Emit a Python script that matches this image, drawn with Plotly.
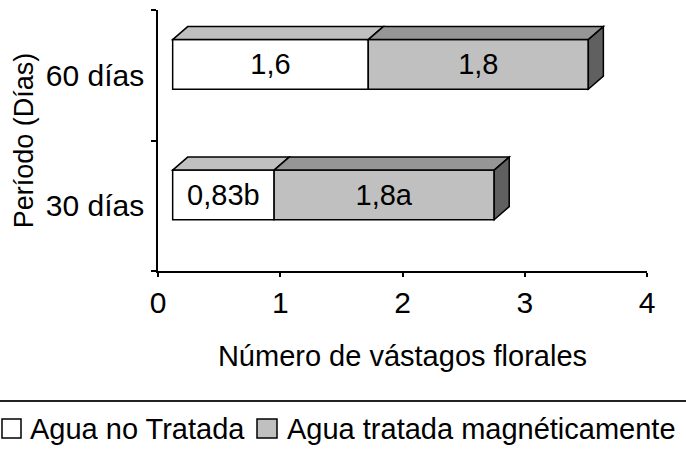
import plotly.graph_objects as go

# Flowering stems per period, untreated vs magnetically treated water
periods = ["30 días", "60 días"]
untreated = [0.83, 1.6]
treated = [1.8, 1.8]
untreated_sig = ["b", ""]
treated_sig = ["a", ""]
x_ticks = [0, 1, 2, 3, 4]

FONT = "Liberation Sans, Arial, sans-serif"
FS = 29

# pseudo-3D bar geometry (data units)
SHIFT = 0.12      # front face offset from the value axis
BAR_W = 0.38
BAR_OFF = -0.107
DX, DY = 0.123, 0.10

ypos = list(range(len(periods)))


def fmt(v, tag):
    return f"{v:g}".replace(".", ",") + tag


fig = go.Figure()
fig.add_trace(go.Bar(
    y=ypos, x=untreated, base=[SHIFT] * len(ypos), orientation="h",
    width=BAR_W, offset=BAR_OFF, name="Agua no Tratada",
    marker=dict(color="white", line=dict(color="black", width=1.5)),
    text=[fmt(v, t) for v, t in zip(untreated, untreated_sig)],
    textposition="inside", insidetextanchor="middle", constraintext="none",
    textfont=dict(family=FONT, size=FS, color="black"), showlegend=False,
))
fig.add_trace(go.Bar(
    y=ypos, x=treated, base=[SHIFT + u for u in untreated], orientation="h",
    width=BAR_W, offset=BAR_OFF, name="Agua tratada magnéticamente",
    marker=dict(color="#c0c0c0", line=dict(color="black", width=1.5)),
    text=[fmt(v, t) for v, t in zip(treated, treated_sig)],
    textposition="inside", insidetextanchor="middle", constraintext="none",
    textfont=dict(family=FONT, size=FS, color="black"), showlegend=False,
))

# top and side faces of the extruded bars
shapes = []
for i, y in enumerate(ypos):
    bottom = y + BAR_OFF
    top = bottom + BAR_W
    segs = [(SHIFT, SHIFT + untreated[i], "#c0c0c0"),
            (SHIFT + untreated[i], SHIFT + untreated[i] + treated[i], "#969696")]
    for x0, x1, col in segs:
        shapes.append(dict(
            type="path", xref="x", yref="y", fillcolor=col,
            line=dict(color="black", width=1.5),
            path=f"M{x0},{top} L{x0 + DX},{top + DY} L{x1 + DX},{top + DY} L{x1},{top} Z",
        ))
    xe = segs[-1][1]
    shapes.append(dict(
        type="path", xref="x", yref="y", fillcolor="#606060",
        line=dict(color="black", width=1.5),
        path=f"M{xe},{bottom} L{xe},{top} L{xe + DX},{top + DY} L{xe + DX},{bottom + DY} Z",
    ))

# legend separator and legend keys (paper coords from pixel positions)
L, R, T, B = 158, 39, 10, 179
PW, PH = 686 - L - R, 450 - T - B


def px(x):
    return (x - L) / PW


def py(y):
    return (450 - B - y) / PH


shapes.append(dict(type="line", xref="paper", yref="paper",
                   x0=px(0), x1=px(686), y0=py(401), y1=py(401),
                   line=dict(color="#222222", width=2)))
shapes.append(dict(type="rect", xref="paper", yref="paper",
                   x0=px(2), x1=px(21), y0=py(438), y1=py(419),
                   fillcolor="white", line=dict(color="black", width=1.5)))
shapes.append(dict(type="rect", xref="paper", yref="paper",
                   x0=px(257), x1=px(277), y0=py(438), y1=py(419),
                   fillcolor="#c0c0c0", line=dict(color="black", width=1.5)))

annotations = [
    dict(text="Agua no Tratada", xref="paper", yref="paper", x=px(28), y=py(429),
         xanchor="left", yanchor="middle", showarrow=False,
         font=dict(family=FONT, size=FS, color="black")),
    dict(text="Agua tratada magnéticamente", xref="paper", yref="paper", x=px(285), y=py(429),
         xanchor="left", yanchor="middle", showarrow=False,
         font=dict(family=FONT, size=FS, color="black")),
]

fig.update_layout(
    width=686, height=450, barmode="overlay",
    margin=dict(l=L, r=R, t=T, b=B),
    paper_bgcolor="white", plot_bgcolor="white",
    font=dict(family=FONT, size=FS, color="black"),
    shapes=shapes, annotations=annotations, showlegend=False,
    xaxis=dict(
        range=[0, 4], tickvals=x_ticks, ticktext=[str(t) for t in x_ticks],
        ticks="outside", ticklen=4, tickwidth=1.5, tickcolor="black",
        showline=True, linecolor="black", linewidth=1.5,
        showgrid=False, zeroline=False,
        tickfont=dict(family=FONT, size=30, color="black"),
        title=dict(text="Número de vástagos florales", standoff=28,
                   font=dict(family=FONT, size=FS, color="black")),
    ),
    yaxis=dict(
        range=[-0.5, 1.5], tickvals=ypos, ticktext=periods,
        ticks="outside", ticklen=6, tickcolor="rgba(0,0,0,0)",
        minor=dict(tickvals=[-0.5, 0.5, 1.5], ticks="outside", ticklen=5,
                   tickwidth=1.5, tickcolor="black", showgrid=False),
        showline=True, linecolor="black", linewidth=1.5,
        showgrid=False, zeroline=False,
        tickfont=dict(family=FONT, size=30, color="black"),
        title=dict(text="Período (Días)", standoff=4,
                   font=dict(family=FONT, size=27, color="black")),
    ),
)

fig.write_html("out.html")
